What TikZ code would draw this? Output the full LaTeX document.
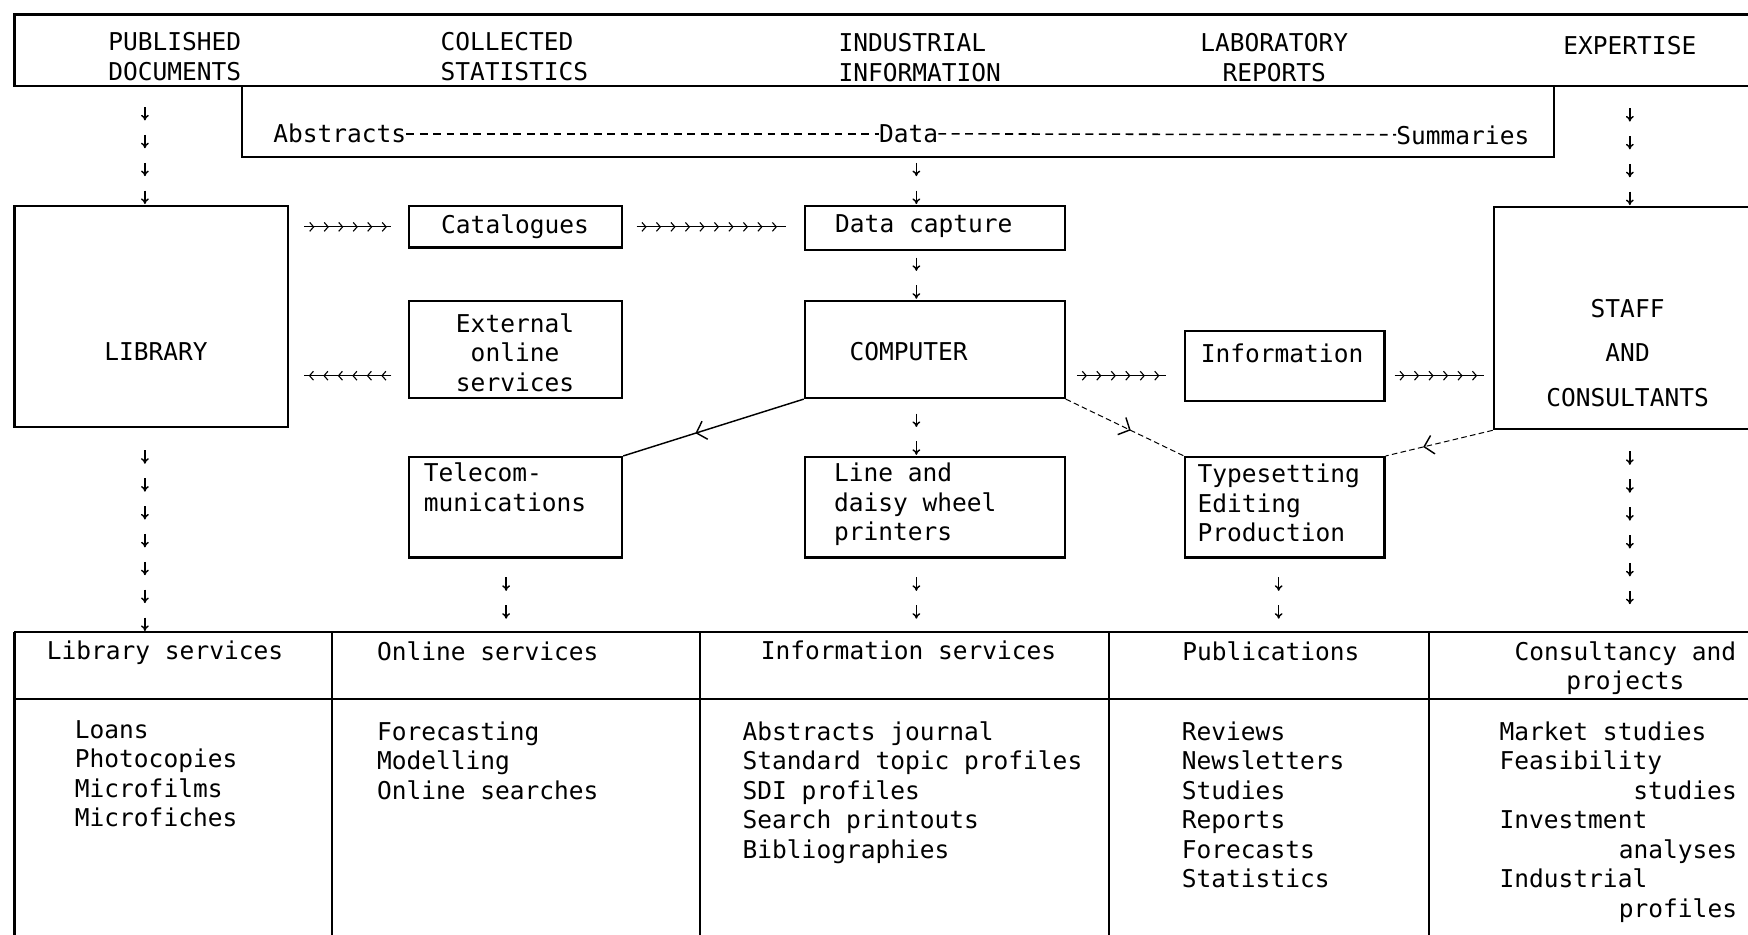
\documentclass[tikz,border=0pt]{standalone}
\usepackage{fontspec}
\newfontfamily\printfont{DejaVu Sans Mono}
\usetikzlibrary{arrows.meta,decorations.markings,calc}
\tikzset{
  box/.style={draw, line width=2pt, inner sep=0pt},
  lbl/.style={inner sep=0pt, align=left},
  rule/.style={line width=2pt},
  dashline/.style={line width=1.4pt, dash pattern=on 7pt off 5pt},
  dotline/.style={line width=0.9pt, dash pattern=on 5pt off 3pt},
  thinsolid/.style={line width=1.3pt},
  chaindown/.style={decoration={markings,
      mark=between positions 1pt and -10pt step 25pt with {\draw[line width=1.3pt,-{To[length=5pt,width=7pt]}] (12pt,0pt) -- (0pt,0pt);}},
    postaction=decorate},
  hchain/.style={line width=1pt, decoration={markings,
      mark=between positions 9pt and 1 step 13pt with {\arrow{Straight Barb[length=3.5pt,width=8pt]}}},
    postaction=decorate},
  midarr/.style={decoration={markings,
      mark=at position #1 with {\arrow[solid, line width=1.3pt]{Straight Barb[length=8pt,width=17pt]}}},
    postaction=decorate}
}
\begin{document}
\begin{tikzpicture}[x=1pt, y=-1pt, font=\printfont\fontsize{22pt}{26.5pt}\selectfont]
\useasboundingbox (0,0) rectangle (1568,838);
\clip (0,0) rectangle (1568,838);
%Sources
\node[box, minimum width=1627, minimum height=64] (srcbox) at (826.5,45) {};
\node[box, minimum width=1177, minimum height=64] (absbox) at (805.5,109) {};
\node[lbl, anchor=north west] (pubdoc) at (97,29) {PUBLISHED\\DOCUMENTS};
\node[lbl, anchor=north west] (colstat) at (395,29) {COLLECTED\\STATISTICS};
\node[lbl, anchor=north west] (indinfo) at (752,30) {INDUSTRIAL\\INFORMATION};
\node[lbl, align=center, anchor=north] (labrep) at (1143,30) {LABORATORY\\REPORTS};
\node[lbl, anchor=north] (expert) at (1462,32) {EXPERTISE};
\node[lbl, anchor=west] (abstr) at (245,120) {Abstracts};
\node[lbl] (data) at (815,120) {Data};
\node[lbl, anchor=east] (summ) at (1372,121) {Summaries};
\draw[dashline] (abstr) -- (data);
\draw[dashline] (data) -- (summ);
%Boxes
\node[box, minimum width=245, minimum height=198] (lib) at (135.5,284) {};
\node[box, minimum width=191, minimum height=37] (cat) at (462.5,203.5) {};
\node[box, minimum width=233, minimum height=39] (dcap) at (838.5,204.5) {};
\node[box, minimum width=191, minimum height=87] (ext) at (462.5,313.5) {};
\node[box, minimum width=233, minimum height=87] (comp) at (838.5,313.5) {};
\node[box, minimum width=179, minimum height=63] (info) at (1152.5,328.5) {};
\node[box, minimum width=300, minimum height=199] (staff) at (1490,285.5) {};
\node[box, minimum width=191, minimum height=90] (tel) at (462.5,455) {};
\node[box, minimum width=233, minimum height=90] (prn) at (838.5,455) {};
\node[box, minimum width=179, minimum height=90] (type) at (1152.5,455) {};
\node[lbl, anchor=north] (libT) at (140,307) {LIBRARY};
\node[lbl, anchor=north] (catT) at (462,192) {Catalogues};
\node[lbl, anchor=north west] (dcapT) at (749,192) {Data capture};
\node[lbl, align=center, anchor=north] (extT) at (462,281) {External\\online\\services};
\node[lbl, anchor=north] (compT) at (815,307) {COMPUTER};
\node[lbl, anchor=north west] (infoT) at (1077,308) {Information};
\node[lbl, align=center, anchor=north] (staffT) at (1460,268) {STAFF\\[13.5pt]AND\\[13.5pt]CONSULTANTS};
\node[lbl, anchor=north west] (telT) at (380,415) {Telecom-\\munications};
\node[lbl, anchor=north west] (prnT) at (748,415) {Line and\\daisy wheel\\printers};
\node[lbl, anchor=north west] (typeT) at (1074,416) {Typesetting\\Editing\\Production};
%Table
\draw[rule] (13,567) -- (1600,567) (13,627) -- (1600,627);
\foreach \x in {13,298,628,995,1282}
  \draw[rule] (\x,567) -- (\x,860);
\node[lbl, anchor=north] (libsv) at (148,575) {Library services};
\node[lbl, anchor=north west] (onlsv) at (338,575) {Online services};
\node[lbl, anchor=north] (infsv) at (815,575) {Information services};
\node[lbl, anchor=north] (pubs) at (1140,575) {Publications};
\node[lbl, align=center, anchor=north] (cons) at (1458,575) {Consultancy and\\projects};
\node[lbl, anchor=north west] (libls) at (67,646) {Loans\\Photocopies\\Microfilms\\Microfiches};
\node[lbl, anchor=north west] (onlls) at (338,647) {Forecasting\\Modelling\\Online searches};
\node[lbl, anchor=north west] (infls) at (666,647) {Abstracts journal\\Standard topic profiles\\SDI profiles\\Search printouts\\Bibliographies};
\node[lbl, anchor=north west] (publs) at (1060,647) {Reviews\\Newsletters\\Studies\\Reports\\Forecasts\\Statistics};
\node[lbl, anchor=north west] (conls) at (1345,647) {Market studies\\Feasibility\\\hspace*{120pt}studies\\Investment\\\hspace*{107pt}analyses\\Industrial\\\hspace*{107pt}profiles};
%Arrow chains
\coordinate (libx) at (130,0);
\coordinate (spine) at (822,0);
\coordinate (telx) at (454,0);
\coordinate (typx) at (1147,0);
\coordinate (tabtop) at (0,567);
\coordinate (arrtop) at (0,556);
\coordinate (conend) at (1462,543);
\path[chaindown] (lib.north -| libx) -- (srcbox.south -| libx);
\path[chaindown] (dcap.north -| spine) -- (absbox.south -| spine);
\path[chaindown] (comp.north -| spine) -- (dcap.south -| spine);
\path[chaindown] (prn.north -| spine) -- (comp.south -| spine);
\path[chaindown] (staff.north -| expert) -- (srcbox.south -| expert);
\path[chaindown] (tabtop -| libx) -- (lib.south -| libx);
\path[chaindown] (arrtop -| telx) -- (tel.south -| telx);
\path[chaindown] (arrtop -| spine) -- (prn.south -| spine);
\path[chaindown] (arrtop -| typx) -- (type.south -| typx);
\path[chaindown] (conend) -- (staff.south -| conend);
\draw[hchain] ($(lib.east |- cat.west)+(14,0)$) -- ($(cat.west)+(-15,0)$);
\draw[hchain] ($(cat.east)+(12,0)$) -- ($(dcap.west |- cat.east)+(-16,0)$);
\draw[hchain] ($(ext.west)+(-15,23.5)$) -- ($(lib.east |- ext.west)+(14,23.5)$);
\draw[hchain] ($(comp.east)+(10,23.5)$) -- ($(info.west |- comp.east)+(-16,23.5)$);
\draw[hchain] ($(info.east)+(8,8.5)$) -- ($(staff.west |- info.east)+(-8,8.5)$);
%Diagonal links
\draw[thinsolid, midarr=0.6] (comp.south west) -- (tel.north east);
\draw[dotline, midarr=0.55] (comp.south east) -- (type.north west);
\draw[dotline, midarr=0.65] (staff.south west) -- (type.north east);
\end{tikzpicture}
\end{document}
